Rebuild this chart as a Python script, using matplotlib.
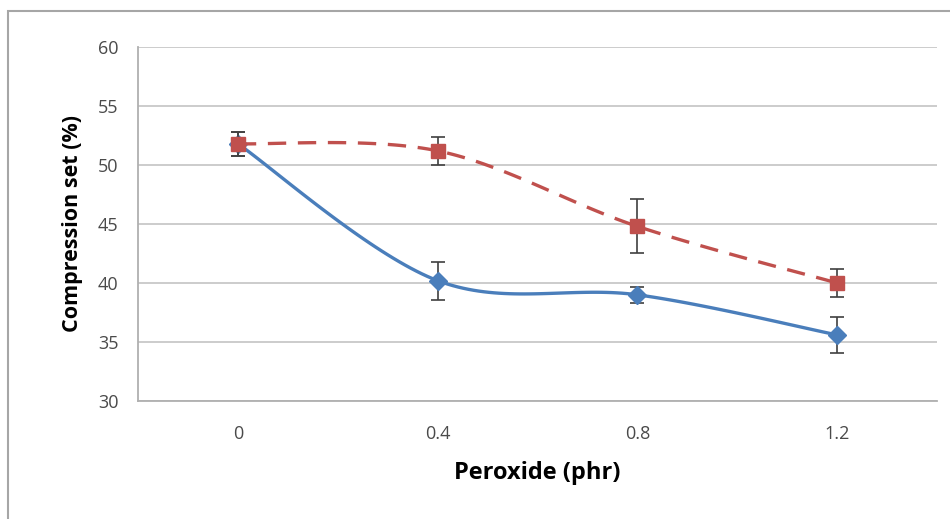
import numpy as np
import matplotlib
matplotlib.use("Agg")
import matplotlib.pyplot as plt
from matplotlib.patches import Rectangle

# data
peroxide = ["0", "0.4", "0.8", "1.2"]
series_a = [51.8, 40.2, 39.0, 35.6]   # blue diamonds, solid
err_a = [1.0, 1.6, 0.7, 1.5]
series_b = [51.8, 51.2, 44.8, 40.0]   # red squares, dashed
err_b = [1.0, 1.2, 2.3, 1.2]

BLUE = "#4a7ebb"
RED = "#c0504d"


def excel_smooth(x, y, n=40):
    # Excel-style smoothed line: cubic Bezier with 1/6 neighbour tangents
    p = np.column_stack([x, y]).astype(float)
    pts = []
    for i in range(len(p) - 1):
        p0 = p[i - 1] if i > 0 else p[i]
        p1, p2 = p[i], p[i + 1]
        p3 = p[i + 2] if i + 2 < len(p) else p[i + 1]
        c1 = p1 + (p2 - p0) / 6
        c2 = p2 - (p3 - p1) / 6
        t = np.linspace(0, 1, n)[:, None]
        seg = ((1 - t) ** 3 * p1 + 3 * (1 - t) ** 2 * t * c1
               + 3 * (1 - t) * t ** 2 * c2 + t ** 3 * p2)
        pts.append(seg if i == 0 else seg[1:])
    pts = np.vstack(pts)
    return pts[:, 0], pts[:, 1]


plt.rcParams["font.family"] = ["Open Sans", "DejaVu Sans"]

fig = plt.figure(figsize=(9.5, 5.19), dpi=100)
fig.patches.append(Rectangle((8 / 950, -0.1), 1.2, 1 - 11 / 519 + 0.1,
                             transform=fig.transFigure, fill=False,
                             edgecolor="#a6a6a6", linewidth=1.5))

ax = fig.add_axes([138 / 950, 118 / 519, 799 / 950, 354 / 519])
xs = np.arange(len(peroxide))

xa, ya = excel_smooth(xs, series_a)
ax.plot(xa, ya, color=BLUE, lw=2.4, zorder=3, solid_capstyle="round")
ax.errorbar(xs, series_a, yerr=err_a, fmt="D", color=BLUE, ms=9,
            ecolor="#404040", elinewidth=1.2, capsize=5, capthick=1.2, zorder=4)

xb, yb = excel_smooth(xs, series_b)
ax.plot(xb, yb, color=RED, lw=2.4, ls=(0, (5.5, 3.5)), zorder=5)
ax.errorbar(xs, series_b, yerr=err_b, fmt="s", color=RED, ms=10,
            ecolor="#404040", elinewidth=1.2, capsize=5, capthick=1.2, zorder=6)

ax.set_xlim(-0.5, 3.5)
ax.set_ylim(30, 60)
ax.set_yticks(np.arange(30, 61, 5))
ax.set_xticks(xs)
ax.set_xticklabels(peroxide)
ax.grid(axis="y", color="#c8c8c8", lw=1.3)
ax.set_axisbelow(True)
for s in ["top", "right"]:
    ax.spines[s].set_visible(False)
for s in ["left", "bottom"]:
    ax.spines[s].set_color("#b0b0b0")
    ax.spines[s].set_linewidth(1.3)
ax.tick_params(length=0, labelsize=13, labelcolor="#4a4a4a")
ax.tick_params(axis="y", pad=14)
ax.tick_params(axis="x", pad=17)

ax.set_xlabel("Peroxide (phr)", fontsize=17, fontweight="bold", labelpad=13)
ax.set_ylabel("Compression set (%)", fontsize=15.5, fontweight="bold", labelpad=11)

fig.savefig("out.png", dpi=100)
